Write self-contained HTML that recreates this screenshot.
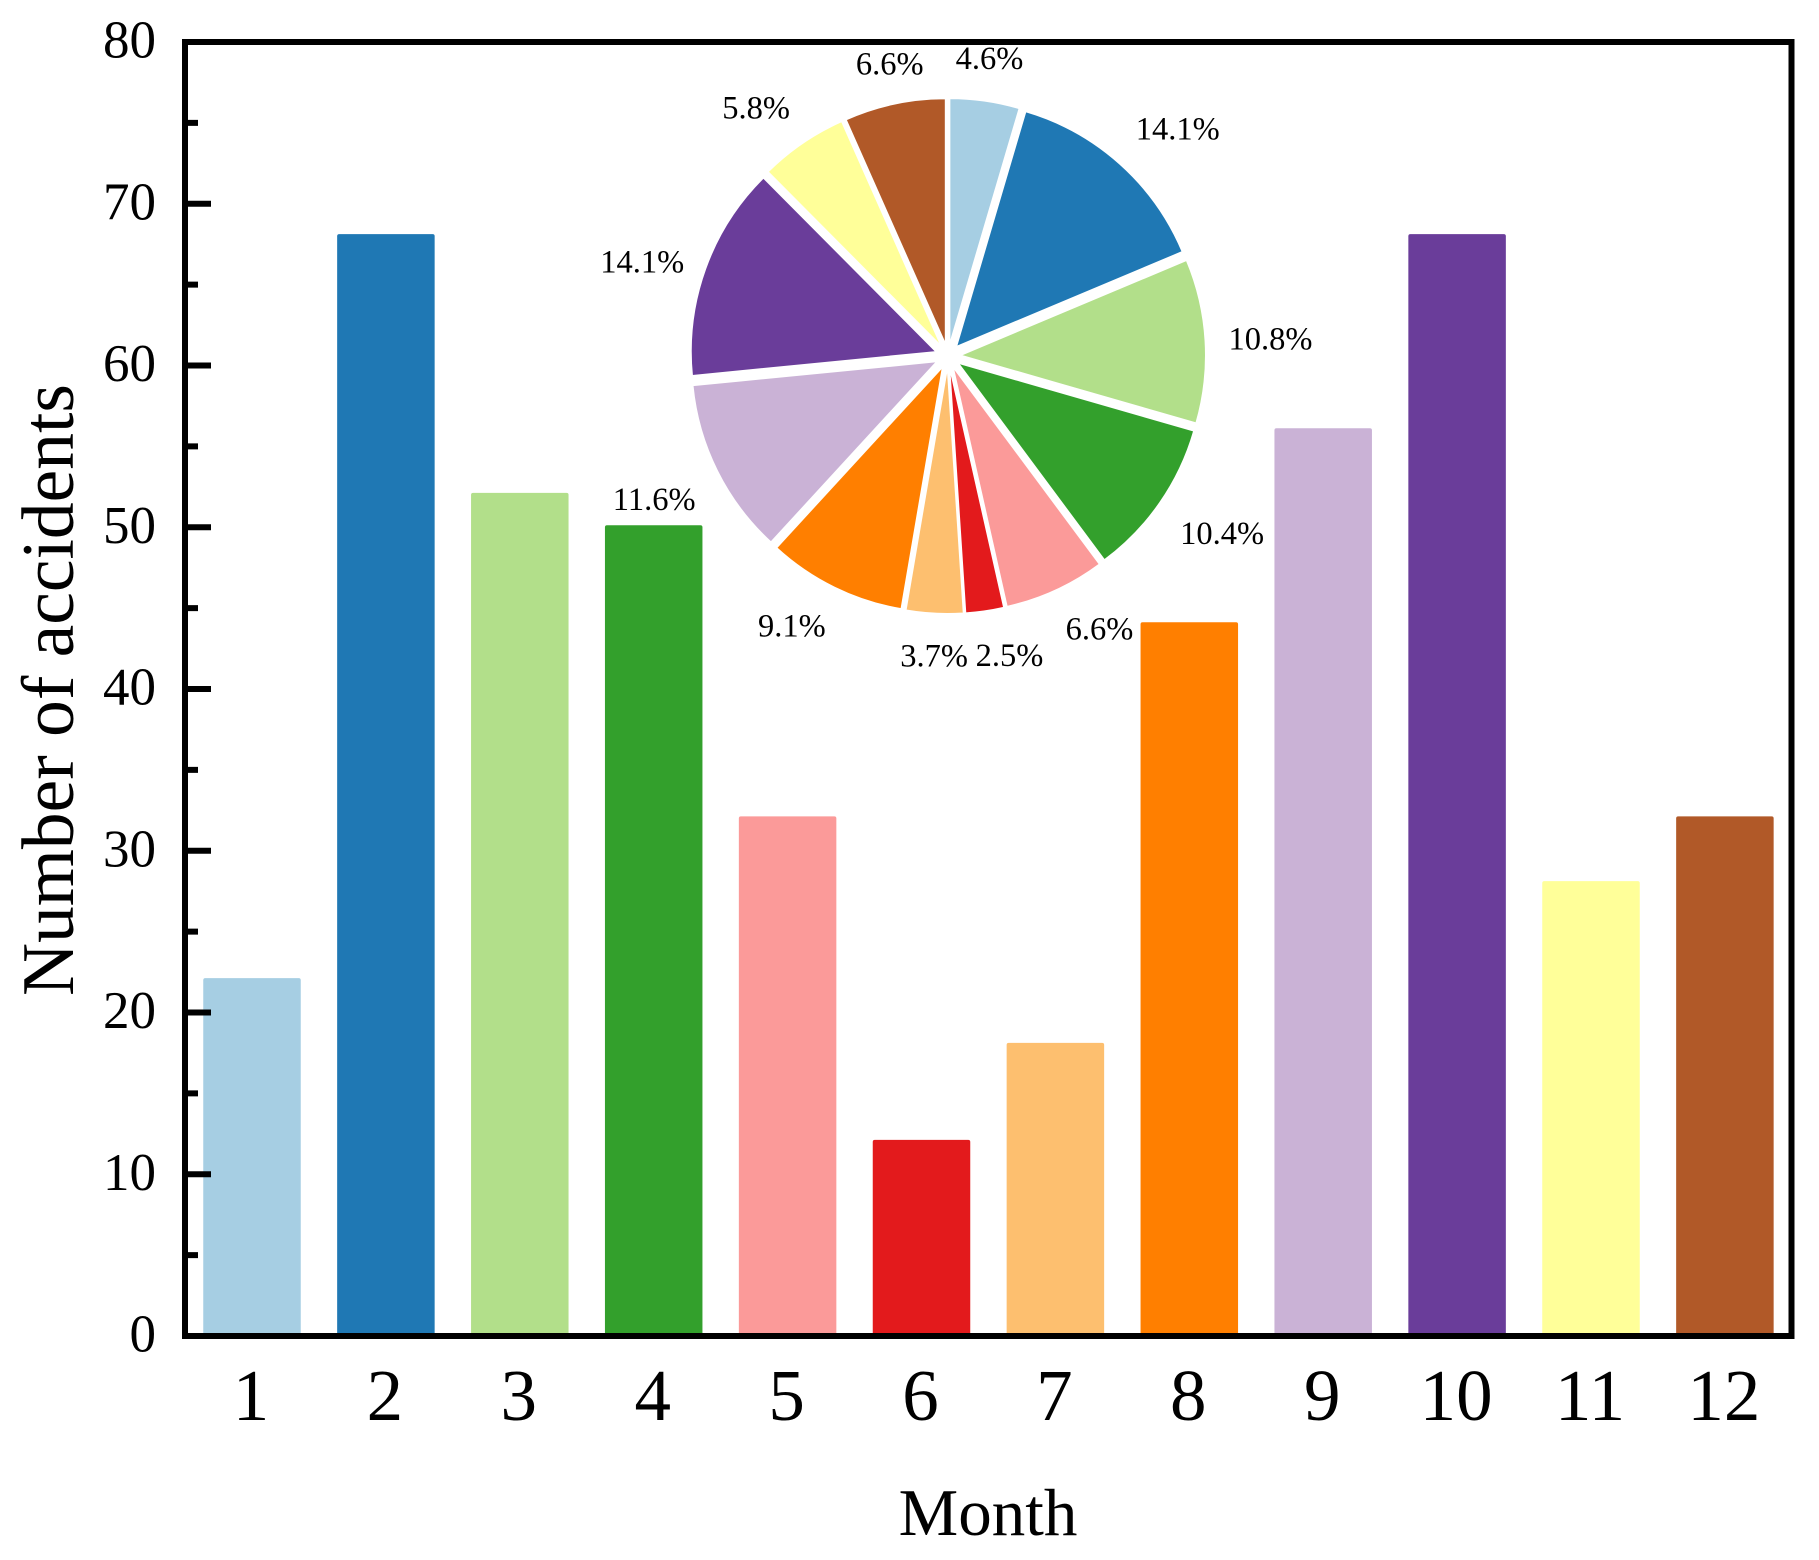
<!DOCTYPE html>
<html lang="en">
<head>
<meta charset="utf-8">
<title>Number of accidents by month</title>
<style>
  html, body { margin: 0; padding: 0; background: #fff; }
  body { width: 1819px; height: 1560px; overflow: hidden; }
  svg { display: block; }
  text { font-family: "Liberation Serif", serif; fill: #000; }
</style>
</head>
<body>
<svg id="chart" xmlns="http://www.w3.org/2000/svg" width="1819" height="1560" viewBox="0 0 1819 1560">
  <rect x="0" y="0" width="1819" height="1560" fill="#fff"/>
  <g id="bars"></g>
  <g id="yticks"></g>
  <rect x="185" y="42" width="1606.5" height="1294" fill="none" stroke="#000" stroke-width="6"/>
  <g id="ylabels"></g>
  <g id="xlabels"></g>
  <g id="pie"></g>
  <g id="pielabels"></g>
  <text x="988" y="1535" font-size="67" text-anchor="middle">Month</text>
  <text transform="translate(73,690) rotate(-90)" font-size="74" text-anchor="middle" textLength="612" lengthAdjust="spacingAndGlyphs">Number of accidents</text>
</svg>
<script>
const months = ["1", "2", "3", "4", "5", "6", "7", "8", "9", "10", "11", "12"];
const accidents = [22, 68, 52, 50, 32, 12, 18, 44, 56, 68, 28, 32];
const colors = ["#a6cee3", "#1f78b4", "#b2df8a", "#33a02c", "#fb9a99", "#e31a1c", "#fdbf6f", "#ff7f00", "#cab2d6", "#6a3d9a", "#ffff99", "#b15928"];
const yMajorTicks = [0, 10, 20, 30, 40, 50, 60, 70, 80];
const yMinorTicks = [5, 15, 25, 35, 45, 55, 65, 75];
const labelNudgeX = [-5, 13, -2, 7, 16, 15, 3, -13, -3, 0, -8.5, 9];
const labelNudgeY = [-1, -4, 0, 6, 0, 2, 0, 0, 9, 7, -1, 1];

const NS = "http://www.w3.org/2000/svg";
function xScale(i) { return 252 + 133.9 * i; }
function yScale(v) { return 1336 - 16.175 * v; }
const BAR_W = 97.5;
const BAR_TOP_OFFSET = 2;
const PIE = { cx: 948, cy: 356, r: 244.5, explode: 13, labelRx: 325, labelRy: 300 };
function make(tag, attrs, parent) {
  const el = document.createElementNS(NS, tag);
  for (const k in attrs) el.setAttribute(k, attrs[k]);
  parent.appendChild(el);
  return el;
}

const barsG = document.getElementById("bars");
accidents.forEach(function (v, i) {
  const top = yScale(v) - BAR_TOP_OFFSET;
  const bar = make("rect", {
    x: xScale(i) - BAR_W / 2, y: top, width: BAR_W,
    height: Math.max(0, yScale(0) - top), rx: 2, fill: colors[i]
  }, barsG);
  
  
});

const ticksG = document.getElementById("yticks");
yMajorTicks.forEach(function (t) {
  if (t === 0 || t === 80) return;
  const tick = make("rect", { x: 185, y: yScale(t) - 3, width: 26, height: 6, fill: "#000" }, ticksG);
  
  
});
yMinorTicks.forEach(function (t) {
  const tick = make("rect", { x: 185, y: yScale(t) - 3, width: 13, height: 6, fill: "#000" }, ticksG);
  
  
});

const yLabG = document.getElementById("ylabels");
yMajorTicks.forEach(function (t) {
  const label = make("text", { x: 156, y: yScale(t) + 15.5, "font-size": 53, "text-anchor": "end" }, yLabG);
  label.textContent = String(t);
  
  
});

const xLabG = document.getElementById("xlabels");
months.forEach(function (m, i) {
  const label = make("text", { x: xScale(i) - 1, y: 1420, "font-size": 73, "text-anchor": "middle" }, xLabG);
  label.textContent = m;
  
  
});

const total = accidents.reduce(function (a, b) { return a + b; }, 0);
const pieG = document.getElementById("pie");
const pieLabG = document.getElementById("pielabels");
let cumulative = 0;
accidents.forEach(function (v, i) {
  const a0 = cumulative / total * 2 * Math.PI;
  cumulative += v;
  const a1 = cumulative / total * 2 * Math.PI;
  const mid = (a0 + a1) / 2;
  const ax = PIE.cx + PIE.explode * Math.sin(mid);
  const ay = PIE.cy - PIE.explode * Math.cos(mid);
  const x0 = ax + PIE.r * Math.sin(a0);
  const y0 = ay - PIE.r * Math.cos(a0);
  const x1 = ax + PIE.r * Math.sin(a1);
  const y1 = ay - PIE.r * Math.cos(a1);
  const large = a1 - a0 > Math.PI ? 1 : 0;
  const slice = make("path", {
    d: "M" + ax.toFixed(2) + " " + ay.toFixed(2) + "L" + x0.toFixed(2) + " " + y0.toFixed(2) +
       "A" + PIE.r + " " + PIE.r + " 0 " + large + " 1 " + x1.toFixed(2) + " " + y1.toFixed(2) + "Z",
    fill: colors[i], stroke: "#fff", "stroke-width": 1
  }, pieG);
  
  

  const lx = PIE.cx + PIE.labelRx * Math.sin(mid);
  const ly = PIE.cy - PIE.labelRy * Math.cos(mid);
  const label = make("text", {
    x: lx + labelNudgeX[i], y: ly + labelNudgeY[i] + 11,
    "font-size": 32.5, "text-anchor": "middle"
  }, pieLabG);
  label.textContent = (v / total * 100).toFixed(1) + "%";
  
  
});
</script>
</body>
</html>
